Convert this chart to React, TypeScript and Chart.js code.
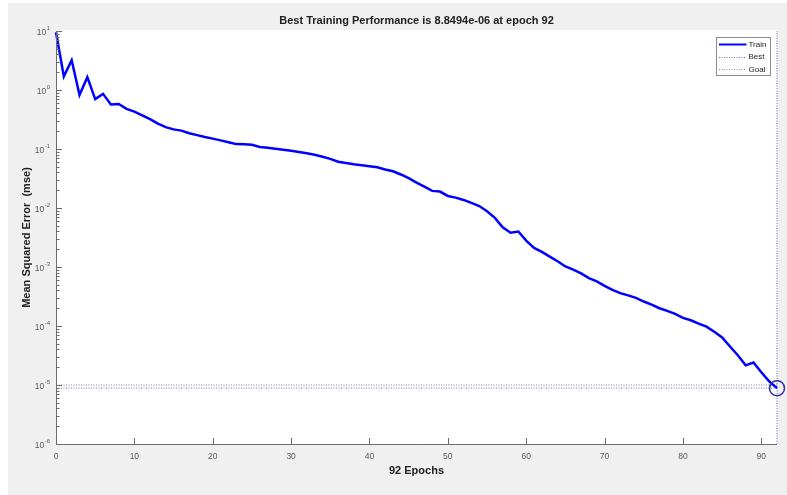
import React, { useEffect, useRef } from "react";
import { Chart, registerables } from "chart.js";

Chart.register(...registerables);

// ---- data ----
const trainMse: number[] = [
  9.5, 1.7, 3.2, 0.82, 1.65, 0.7, 0.86, 0.57, 0.58, 0.48,
  0.43, 0.37, 0.32, 0.27, 0.235, 0.215, 0.205, 0.185, 0.172, 0.16,
  0.15, 0.14, 0.13, 0.121, 0.12, 0.118, 0.108, 0.105, 0.101, 0.097,
  0.093, 0.089, 0.085, 0.08, 0.074, 0.068, 0.061, 0.058, 0.055, 0.053,
  0.051, 0.049, 0.045, 0.042, 0.037, 0.032, 0.027, 0.023, 0.0195, 0.019,
  0.016, 0.015, 0.0137, 0.0122, 0.0108, 0.0088, 0.0068, 0.0047, 0.0038, 0.004,
  0.0028, 0.0021, 0.0018, 0.0015, 0.00125, 0.00102, 0.0009, 0.00078, 0.00065, 0.00057,
  0.00048, 0.00041, 0.00036, 0.00033, 0.0003, 0.00026, 0.00023, 0.0002, 0.00018, 0.00016,
  0.000137, 0.000125, 0.00011, 0.0000975, 0.00008, 0.000064, 0.000045, 0.000032, 0.0000215, 0.000024,
  0.0000165, 0.0000115, 0.0000088494,
];
const bestEpoch = 92;
const bestPerf = 8.8494e-6;
const goalPerf = 1e-5;
const xMin = 0;
const xMax = 92;
const yMin = 1e-6;
const yMax = 10;
const xTickValues = [0, 10, 20, 30, 40, 50, 60, 70, 80, 90];
const yTickValues = [1e-6, 1e-5, 1e-4, 1e-3, 1e-2, 1e-1, 1, 10];
const yTickExponents = ["-6", "-5", "-4", "-3", "-2", "-1", "0", "1"];
const yMinorMultipliers = [2, 3, 4, 5, 6, 7, 8, 9];
const titleText = "Best Training Performance is 8.8494e-06 at epoch 92";
const xTitleText = "92 Epochs";
const yTitleText = "Mean Squared Error  (mse)";
const legendLabels = ["Train", "Best", "Goal"];

const FONT = '"Liberation Sans", Arial, Helvetica, sans-serif';
const TRAIN_COLOR = "#0000ff";
const BEST_COLOR = "#6f6fe8";
const GOAL_COLOR = "#8a8a8a";
const AXIS_COLOR = "#6b6b6b";
const LABEL_COLOR = "#5a5a5a";

const matlabPlugin = {
  id: "matlabStyle",
  beforeDraw(chart: any) {
    const { ctx, chartArea: a, width, height } = chart;
    ctx.save();
    ctx.fillStyle = "#ffffff";
    ctx.fillRect(0, 0, width, height);
    ctx.fillStyle = "#f0f0f0";
    ctx.fillRect(8, 3, width - 8, height - 3);
    ctx.fillStyle = "#ffffff";
    ctx.fillRect(a.left, a.top - 1, a.right - a.left, a.bottom - a.top + 1);
    ctx.restore();
  },
  afterDraw(chart: any) {
    const { ctx, chartArea: a } = chart;
    const xs = chart.scales.x;
    const ys = chart.scales.y;
    ctx.save();

    // axis lines
    ctx.strokeStyle = AXIS_COLOR;
    ctx.lineWidth = 1;
    ctx.beginPath();
    ctx.moveTo(Math.round(a.left) + 0.5, a.top);
    ctx.lineTo(Math.round(a.left) + 0.5, Math.round(a.bottom) + 0.5);
    ctx.lineTo(a.right, Math.round(a.bottom) + 0.5);
    ctx.stroke();

    // x ticks (inward)
    ctx.beginPath();
    xTickValues.forEach((v) => {
      const px = Math.round(xs.getPixelForValue(v)) + 0.5;
      ctx.moveTo(px, a.bottom);
      ctx.lineTo(px, a.bottom - 6);
    });
    // y major ticks
    yTickValues.forEach((v) => {
      const py = Math.round(ys.getPixelForValue(v)) + 0.5;
      ctx.moveTo(a.left, py);
      ctx.lineTo(a.left + 6, py);
    });
    // y minor ticks
    yTickValues.slice(0, -1).forEach((v) => {
      yMinorMultipliers.forEach((m) => {
        const py = Math.round(ys.getPixelForValue(v * m)) + 0.5;
        ctx.moveTo(a.left, py);
        ctx.lineTo(a.left + 3.5, py);
      });
    });
    ctx.stroke();

    // x tick labels
    ctx.fillStyle = LABEL_COLOR;
    ctx.font = `8.5px ${FONT}`;
    ctx.textAlign = "center";
    ctx.textBaseline = "middle";
    xTickValues.forEach((v) => {
      ctx.fillText(String(v), xs.getPixelForValue(v), a.bottom + 13);
    });

    // y tick labels: 10 with superscript exponent
    yTickValues.forEach((v, i) => {
      const py = ys.getPixelForValue(v);
      const exp = yTickExponents[i];
      ctx.font = `6px ${FONT}`;
      const ew = ctx.measureText(exp).width;
      const right = a.left - 6;
      ctx.textAlign = "left";
      ctx.textBaseline = "middle";
      ctx.fillText(exp, right - ew, py - 3);
      ctx.font = `8.5px ${FONT}`;
      ctx.textAlign = "right";
      ctx.fillText("10", right - ew - 0.5, py + 2);
    });

    // titles
    ctx.fillStyle = "#222222";
    ctx.font = `bold 11px ${FONT}`;
    ctx.textAlign = "center";
    ctx.textBaseline = "middle";
    const cx = (a.left + a.right) / 2;
    ctx.fillText(titleText, cx, 21);
    ctx.fillText(xTitleText, cx, 471);
    ctx.save();
    ctx.translate(27, (a.top + a.bottom) / 2);
    ctx.rotate(-Math.PI / 2);
    ctx.fillText(yTitleText, 0, 0);
    ctx.restore();

    // legend
    const lx = 716.5, ly = 37.5, lw = 54, lh = 38;
    ctx.fillStyle = "#ffffff";
    ctx.fillRect(lx, ly, lw, lh);
    ctx.strokeStyle = "#8c8c8c";
    ctx.lineWidth = 1;
    ctx.strokeRect(lx, ly, lw, lh);
    const rows = [44, 56.5, 69];
    const styles = [
      { color: TRAIN_COLOR, width: 2, dash: [] as number[] },
      { color: BEST_COLOR, width: 1, dash: [1, 1.5] },
      { color: GOAL_COLOR, width: 1, dash: [1, 1.5] },
    ];
    legendLabels.forEach((label, i) => {
      const s = styles[i];
      ctx.beginPath();
      ctx.setLineDash(s.dash);
      ctx.strokeStyle = s.color;
      ctx.lineWidth = s.width;
      ctx.moveTo(719, Math.round(rows[i]) + 0.5);
      ctx.lineTo(746.5, Math.round(rows[i]) + 0.5);
      ctx.stroke();
      ctx.setLineDash([]);
      ctx.fillStyle = "#222222";
      ctx.font = `8px ${FONT}`;
      ctx.textAlign = "left";
      ctx.textBaseline = "middle";
      ctx.fillText(label, 748.5, rows[i] + 0.5);
    });

    ctx.restore();
  },
};

export default function App() {
  const canvasRef = useRef<HTMLCanvasElement | null>(null);

  useEffect(() => {
    if (!canvasRef.current) return;
    const trainPoints = trainMse.map((v, i) => ({ x: i, y: v }));
    const chart = new Chart(canvasRef.current, {
      type: "line",
      data: {
        datasets: [
          {
            label: "BestPoint",
            data: [{ x: bestEpoch, y: bestPerf }],
            showLine: false,
            pointRadius: 7.5,
            pointBorderWidth: 1.5,
            pointBorderColor: "#2b2ba6",
            pointBackgroundColor: "rgba(0,0,0,0)",
            clip: false,
          } as any,
          {
            label: legendLabels[0],
            data: trainPoints,
            borderColor: TRAIN_COLOR,
            borderWidth: 2.5,
            pointRadius: 0,
            tension: 0,
            fill: false,
            clip: 4,
          } as any,
          {
            label: legendLabels[1],
            data: [
              { x: xMin, y: bestPerf },
              { x: bestEpoch, y: bestPerf },
            ],
            borderColor: BEST_COLOR,
            borderWidth: 1,
            borderDash: [1, 1.5],
            pointRadius: 0,
            clip: false,
          } as any,
          {
            label: "BestVertical",
            data: [
              { x: bestEpoch, y: yMin },
              { x: bestEpoch, y: yMax },
            ],
            borderColor: BEST_COLOR,
            borderWidth: 1,
            borderDash: [1, 1.5],
            pointRadius: 0,
            clip: false,
          } as any,
          {
            label: legendLabels[2],
            data: [
              { x: xMin, y: goalPerf },
              { x: xMax, y: goalPerf },
            ],
            borderColor: GOAL_COLOR,
            borderWidth: 1,
            borderDash: [1, 1.5],
            pointRadius: 0,
            clip: false,
          } as any,
        ],
      },
      options: {
        animation: false,
        responsive: false,
        maintainAspectRatio: false,
        devicePixelRatio: 1,
        layout: { padding: { left: 56, right: 10, top: 31, bottom: 51 } },
        plugins: {
          legend: { display: false },
          title: { display: false },
          tooltip: { enabled: false },
        },
        events: [],
        scales: {
          x: { type: "linear", min: xMin, max: xMax, display: false },
          y: { type: "logarithmic", min: yMin, max: yMax, display: false },
        },
      },
      plugins: [matlabPlugin],
    });
    return () => chart.destroy();
  }, []);

  return (
    <div style={{ position: "fixed", left: 0, top: 0, width: 787, height: 495 }}>
      <canvas ref={canvasRef} width={787} height={495} style={{ width: 787, height: 495, display: "block" }} />
    </div>
  );
}
